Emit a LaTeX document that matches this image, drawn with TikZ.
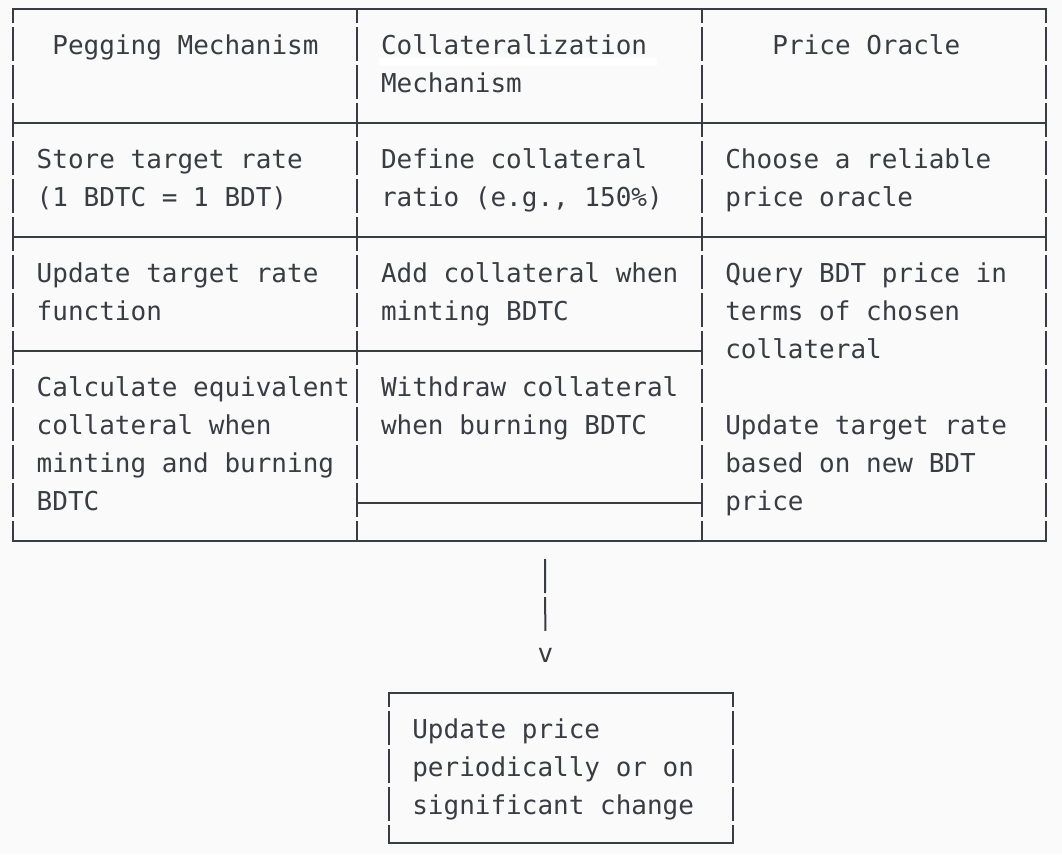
\documentclass[tikz,border=0pt]{standalone}
\usepackage{fontspec}
\setmonofont{DejaVu Sans Mono}
\definecolor{ink}{HTML}{393C42}
\definecolor{paper}{HTML}{FAFAFA}
\tikzset{
    cell/.style={font=\ttfamily\fontsize{26}{38}\selectfont, text=ink, align=left, inner sep=0pt, anchor=base west},
    rule/.style={ink, line width=2pt, line cap=rect},
    bar/.style={ink, line width=2pt, line cap=butt, dash pattern=on 34pt off 4pt, dash phase=20pt},
}

\begin{document}
\begin{tikzpicture}[x=1pt, y=-1pt]
    \useasboundingbox (0,0) rectangle (1062,854);
    \fill[paper] (0,0) rectangle (1062,854);
    \fill[white] (379,58) rectangle (657,66);

    % table rules
    \foreach \x in {13,357.3,701.6,1045.9}
        \draw[bar] (\x,9) -- (\x,541);
    \draw[rule] (13,9) -- (1045.9,9);
    \draw[rule] (13,123) -- (1045.9,123);
    \draw[rule] (13,237) -- (1045.9,237);
    \draw[rule] (13,351) -- (701.6,351);
    \draw[rule] (357.3,503) -- (701.6,503);
    \draw[rule] (13,541) -- (1045.9,541);

    % headers (placed at the baseline of the last line)
    \node[cell] (peg) at (52.2,54) {Pegging Mechanism};
    \node[cell] (coll) at (380.8,92) {Collateralization\\Mechanism};
    \node[cell] (oracle) at (772.2,54) {Price Oracle};

    % cells
    \node[cell] (store) at (36.5,206) {Store target rate\\(1 BDTC = 1 BDT)};
    \node[cell] (ratio) at (380.8,206) {Define collateral\\ratio (e.g., 150\%)};
    \node[cell] (choose) at (725.1,206) {Choose a reliable\\price oracle};
    \node[cell] (update) at (36.5,320) {Update target rate\\function};
    \node[cell] (add) at (380.8,320) {Add collateral when\\minting BDTC};
    \node[cell] (query) at (725.1,358) {Query BDT price in\\terms of chosen\\collateral};
    \node[cell] (calc) at (36.5,510) {Calculate equivalent\\collateral when\\minting and burning\\BDTC};
    \node[cell] (withdraw) at (380.8,434) {Withdraw collateral\\when burning BDTC};
    \node[cell] (retarget) at (725.1,510) {Update target rate\\based on new BDT\\price};

    % flow down
    \coordinate (flowtop) at (545.1,559);
    \node[cell] (tip) at (537.3,662) {v};
    \draw[bar, dash phase=0pt, shorten >=16.8pt] (flowtop) -- (tip.north);

    % price box
    \foreach \x in {388.6,732.9}
        \draw[bar] (\x,693) -- (\x,843);
    \draw[rule] (388.6,693) -- (732.9,693);
    \draw[rule] (388.6,843) -- (732.9,843);
    \node[cell] (periodic) at (412.1,814) {Update price\\periodically or on\\significant change};
\end{tikzpicture}
\end{document}
